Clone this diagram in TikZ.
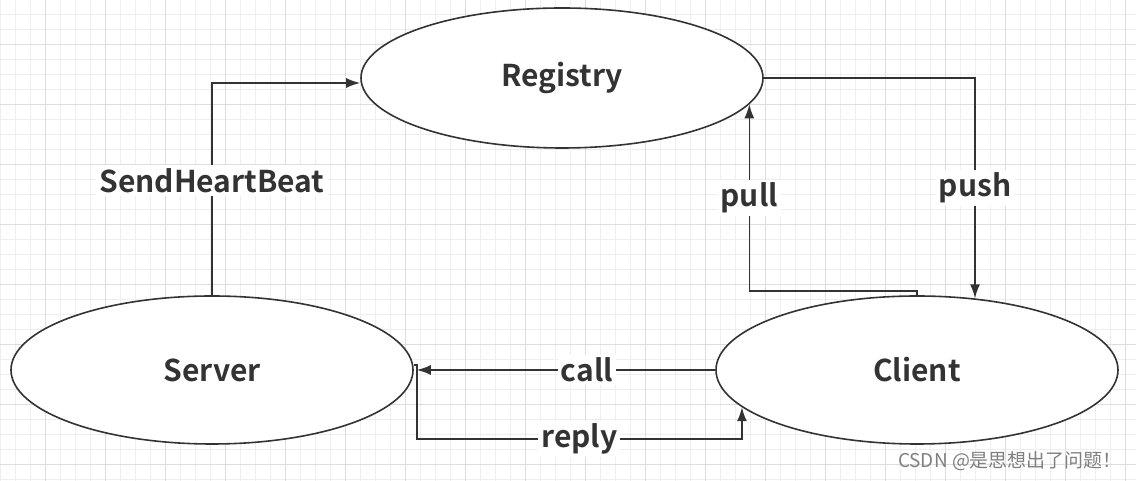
\documentclass[tikz,border=0pt]{standalone}
\usepackage{fontspec}
\setmainfont{Noto Sans CJK SC}[BoldFont={Noto Sans CJK SC Bold}]
\newfontfamily\cjk{Noto Sans CJK SC}
\usetikzlibrary{shapes.geometric,arrows.meta}
\definecolor{ink}{HTML}{333333}
\definecolor{gridminor}{HTML}{EEEEEE}
\definecolor{gridmajor}{HTML}{DDDDDD}
\begin{document}
\begin{tikzpicture}[
  x=1pt, y=1pt,
  oval/.style={ellipse, draw=ink, line width=1.6pt, fill=white, inner sep=0pt,
    minimum width=402pt, minimum height=146pt, font=\fontsize{30}{32}\selectfont\bfseries, text=ink},
  link/.style={draw=ink, line width=1.6pt, -{Latex[length=14pt,width=10pt]}},
  tag/.style={fill=white, text=ink, inner sep=3pt, font=\fontsize{30}{32}\selectfont\bfseries}
]
\useasboundingbox (0,0) rectangle (1136,481);
\fill[white] (0,0) rectangle (1136,481);
% grid
\foreach \x in {0,15,...,1135} \draw[gridminor, line width=1pt] (\x,0) -- (\x,481);
\foreach \y in {15,30,...,480} \draw[gridminor, line width=1pt] (0,481-\y) -- (1136,481-\y);
\foreach \x in {45,105,...,1135} \draw[gridmajor, line width=1pt] (\x,0) -- (\x,481);
\foreach \y in {45,105,...,480} \draw[gridmajor, line width=1pt] (0,481-\y) -- (1136,481-\y);

\node[oval, minimum height=140pt] (registry) at (562,403) {Registry};
\node[oval, minimum height=148pt] (server) at (212,111) {Server};
\node[oval, minimum height=148pt] (client) at (917,111) {Client};

\draw[link] (server.north) |- node[tag, pos=0.27] {SendHeartBeat} ([yshift=-5pt]registry.west);
\draw[link] (registry.east) -| node[tag, pos=0.75] {push} (client.51.7);
\draw[link] (client.north) -- ++(0,4) -| node[tag, pos=0.75] {pull} (registry.-8.4);
\draw[link] (client.west) -- node[tag, pos=0.43] {call} ([xshift=3pt]server.east);
\draw[link] ([yshift=5pt]server.east) -- ++(3,0) -- ++(0,-74) -| node[tag, pos=0.25] {reply} (client.192);

\node[text=black!50, font=\cjk\fontsize{19}{21}\selectfont] (mark) at (1010,20) {CSDN @是思想出了问题！};
\end{tikzpicture}
\end{document}
